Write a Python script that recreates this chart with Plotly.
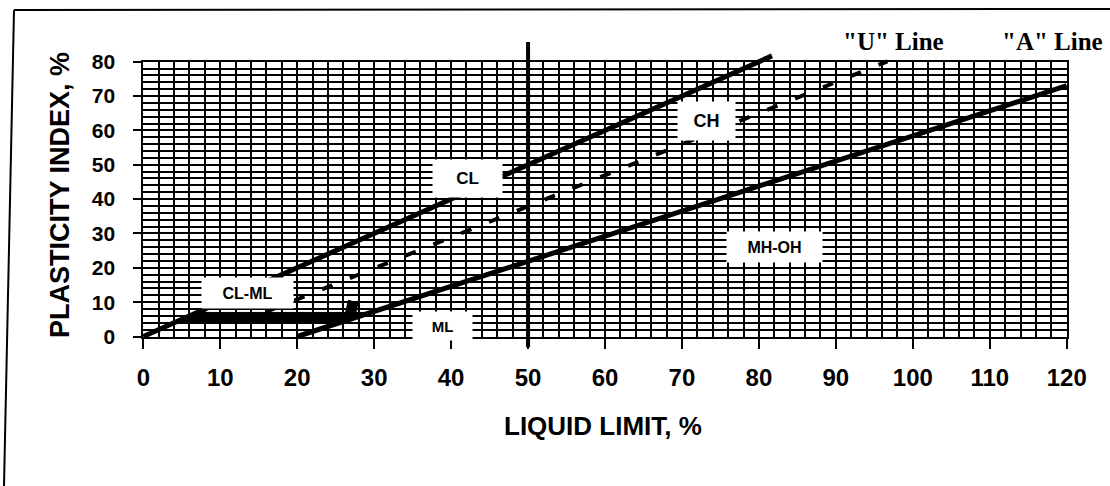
import plotly.graph_objects as go

FIG_W, FIG_H = 1110, 486

# axes
LL_RANGE = [0, 120]
PI_RANGE = [0, 80]
LL_TICKS = list(range(0, 121, 10))
PI_TICKS = list(range(0, 81, 10))

# chart lines as (liquid limit, plasticity index)
upper_ll = [0, 81.7]
upper_pi = [0, 81.7]
a_line_ll = [20, 120]
a_line_pi = [0, 73]
u_line_ll = [16, 96.7]
u_line_pi = [7.2, 80.1]
ll50_ll = [50, 50]
ll50_pi = [-3.1, 85.7]
clml_ll = [4, 7, 30, 26, 4]
clml_pi = [4, 7, 7, 4, 4]
blob_ll = [26.9, 27.3]
blob_pi = [6.5, 10.3]

# zone labels
zone_names = ["CL", "CH", "CL-ML", "MH-OH", "ML"]
zone_ll = [42.1, 73.2, 13.5, 82.0, 38.9]
zone_pi = [46.0, 62.7, 12.7, 26.0, 3.1]
zone_box = [(69, 37), (57, 38), (91, 30), (95, 30), (59, 28)]
zone_font = [17, 18, 16, 16, 15]

# pixel placement of the grid and of a larger, unclipped overlay
GRID_L, GRID_R, GRID_T, GRID_B = 143.3, 1066.7, 61.7, 336.5
OUT_L, OUT_R, OUT_T, OUT_B = 100, 1100, 25, 365
px_ll = (GRID_R - GRID_L) / (LL_RANGE[1] - LL_RANGE[0])
px_pi = (GRID_B - GRID_T) / (PI_RANGE[1] - PI_RANGE[0])


def xf(px):
    return px / FIG_W


def yf(px):
    return 1 - px / FIG_H


SANS = "Liberation Sans, Arial, sans-serif"
SERIF = "Liberation Serif, Times New Roman, serif"

fig = go.Figure()

fig.add_trace(
    go.Scatter(
        x=clml_ll, y=clml_pi, fill="toself", fillcolor="black",
        mode="lines", line=dict(color="black", width=1),
        xaxis="x2", yaxis="y2", hoverinfo="skip",
    )
)
fig.add_trace(
    go.Scatter(
        x=blob_ll, y=blob_pi, mode="lines",
        line=dict(color="black", width=11), xaxis="x2", yaxis="y2",
        hoverinfo="skip",
    )
)
fig.add_trace(
    go.Scatter(
        x=upper_ll, y=upper_pi, mode="lines",
        line=dict(color="black", width=5), xaxis="x2", yaxis="y2",
    )
)
fig.add_trace(
    go.Scatter(
        x=a_line_ll, y=a_line_pi, mode="lines",
        line=dict(color="black", width=5), xaxis="x2", yaxis="y2",
    )
)
fig.add_trace(
    go.Scatter(
        x=u_line_ll, y=u_line_pi, mode="lines",
        line=dict(color="black", width=4, dash="11px,19px"),
        xaxis="x2", yaxis="y2",
    )
)
fig.add_trace(
    go.Scatter(
        x=ll50_ll, y=ll50_pi, mode="lines",
        line=dict(color="black", width=4), xaxis="x2", yaxis="y2",
    )
)

grid_axis = dict(
    showgrid=True, gridcolor="black", gridwidth=2, automargin=False,
    zeroline=False, showline=True, linecolor="black", linewidth=2, mirror=True,
    ticks="outside", tickcolor="black", tickwidth=2,
    tickfont=dict(family=SANS, color="black", weight="bold"),
    minor=dict(dtick=2, showgrid=True, gridcolor="black", gridwidth=2),
    fixedrange=True,
)


def page_text(text, x, y, size, family=SANS, angle=0):
    return dict(
        text=text, x=xf(x), y=yf(y), xref="paper", yref="paper",
        xanchor="center", yanchor="middle", showarrow=False, textangle=angle,
        font=dict(family=family, size=size, color="black", weight="bold"),
    )


annotations = [
    dict(
        text=name, x=ll, y=pi, xref="x", yref="y", showarrow=False,
        xanchor="center", yanchor="middle",
        bgcolor="white", width=w, height=h, borderpad=0,
        font=dict(family=SANS, size=fs, color="black", weight="bold"),
    )
    for name, ll, pi, (w, h), fs in zip(zone_names, zone_ll, zone_pi, zone_box, zone_font)
]
annotations += [
    page_text("PLASTICITY INDEX, %", 60, 195, 27, angle=-90),
    page_text("LIQUID LIMIT, %", 603, 426, 26),
    page_text('"U" Line', 893, 41, 25, family=SERIF),
    page_text('"A" Line', 1052, 41, 25, family=SERIF),
]

fig.update_layout(
    template="none",
    width=FIG_W,
    height=FIG_H,
    margin=dict(l=0, r=0, t=0, b=0, pad=0, autoexpand=False),
    paper_bgcolor="white",
    plot_bgcolor="rgba(0,0,0,0)",
    showlegend=False,
    xaxis=dict(
        grid_axis, range=LL_RANGE, tickvals=LL_TICKS, ticklen=10,
        ticklabelstandoff=9, domain=[xf(GRID_L), xf(GRID_R)], anchor="y",
    ),
    yaxis=dict(
        grid_axis, range=PI_RANGE, tickvals=PI_TICKS, ticklen=8,
        ticklabelstandoff=14, domain=[yf(GRID_B), yf(GRID_T)], anchor="x",
    ),
    xaxis2=dict(
        visible=False, anchor="y2", fixedrange=True, automargin=False,
        domain=[xf(OUT_L), xf(OUT_R)],
        range=[(OUT_L - GRID_L) / px_ll, (OUT_R - GRID_L) / px_ll],
    ),
    yaxis2=dict(
        visible=False, anchor="x2", fixedrange=True, automargin=False,
        domain=[yf(OUT_B), yf(OUT_T)],
        range=[(GRID_B - OUT_B) / px_pi, (GRID_B - OUT_T) / px_pi],
    ),
    annotations=annotations,
    shapes=[
        dict(type="line", xref="paper", yref="paper", x0=xf(14), y0=yf(10),
             x1=xf(1110), y1=yf(9), line=dict(color="black", width=2)),
        dict(type="line", xref="paper", yref="paper", x0=xf(14), y0=yf(10),
             x1=xf(4), y1=yf(486), line=dict(color="black", width=2)),
    ],
)
fig.update_xaxes(tickfont_size=24, selector=dict(anchor="y"))
fig.update_yaxes(tickfont_size=21, selector=dict(anchor="x"))

# the page body has a default 8px margin; drop it so the figure sits at 0,0
fig.write_html(
    "out.html",
    config={"displayModeBar": False},
    post_script="document.body.style.margin='0'; document.body.style.overflow='hidden';",
)
